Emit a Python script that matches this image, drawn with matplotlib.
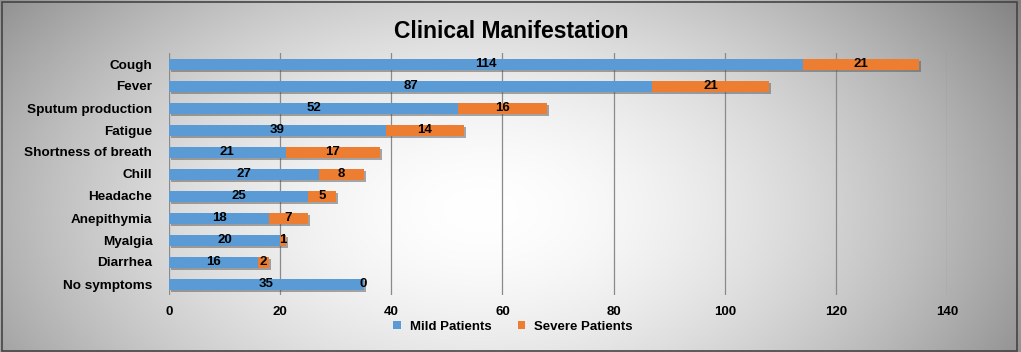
import numpy as np
import matplotlib
matplotlib.use("Agg")
import matplotlib.pyplot as plt
import matplotlib.patheffects as pe
from matplotlib.patches import Rectangle, Patch

categories = ["Cough", "Fever", "Sputum production", "Fatigue", "Shortness of breath",
              "Chill", "Headache", "Anepithymia", "Myalgia", "Diarrhea", "No symptoms"]
mild = [114, 87, 52, 39, 21, 27, 25, 18, 20, 16, 35]
severe = [21, 21, 16, 14, 17, 8, 5, 7, 1, 2, 0]
xticks = [0, 20, 40, 60, 80, 100, 120, 140]
title = "Clinical Manifestation"
series_names = ["Mild Patients", "Severe Patients"]

BLUE = "#5B9BD5"
ORANGE = "#ED7D31"

plt.rcParams['font.family'] = ['Liberation Sans', 'DejaVu Sans']

W, H = 1021, 352
fig = plt.figure(figsize=(W / 100, H / 100), dpi=100)

# background radial gradient
bg = fig.add_axes([0, 0, 1, 1], zorder=-10)
yy, xx = np.mgrid[0:H, 0:W]
cx, cy = 480, 210
d = np.sqrt(((xx - cx) / 570.0) ** 2 + ((yy - cy) / 340.0) ** 2)
val = 1.0 - 0.40 * np.clip(d, 0, 1.2) ** 1.7
img = np.dstack([val, val, val])
bg.imshow(img, extent=[0, 1, 0, 1], aspect='auto', origin='upper')
bg.axis('off')
fig.patches.append(Rectangle((0.002, 0.004), 0.994, 0.99, transform=fig.transFigure,
                             fill=False, edgecolor='#444444', linewidth=1.2))

ax = fig.add_axes([169 / W, 1 - 295 / H, (947 - 169) / W, (295 - 53) / H])
ax.set_facecolor('none')
y = np.arange(len(categories))
shadow = [pe.SimplePatchShadow(offset=(1.5, -1.5), shadow_rgbFace='#555555', alpha=0.5), pe.Normal()]
ax.barh(y, mild, height=0.5, color=BLUE, path_effects=shadow, zorder=3)
ax.barh(y, severe, left=mild, height=0.5, color=ORANGE, path_effects=shadow, zorder=3)

for i in range(len(categories)):
    ax.text(mild[i] / 2, y[i], str(mild[i]), ha='center', va='center', fontsize=9.5,
            fontweight='bold', color='black', zorder=5)
    sx = mild[i] + severe[i] / 2
    ax.text(sx, y[i], str(severe[i]), ha='center', va='center', fontsize=9.5,
            fontweight='bold', color='black', zorder=5)

ax.set_xlim(0, 140)
ax.set_ylim(len(categories) - 0.5, -0.5)
ax.set_xticks(xticks)
ax.set_xticklabels([str(t) for t in xticks], fontsize=9.5, fontweight='bold')
ax.set_yticks(y)
ax.set_yticklabels(categories, fontsize=9.7, fontweight='bold')
ax.tick_params(length=0, pad=8)
ax.tick_params(axis='y', pad=12)
ax.grid(axis='x', color='#8a8a8a', linewidth=0.9, zorder=0)
for s in ax.spines.values():
    s.set_visible(False)

fig.text(511 / W, 1 - 32 / H, title, ha='center', va='center', fontsize=16.5, fontweight='bold')

handles = [Patch(facecolor=BLUE, label=series_names[0]), Patch(facecolor=ORANGE, label=series_names[1])]
fig.legend(handles=handles, loc='center', bbox_to_anchor=(513 / W, 1 - 327 / H),
           ncol=2, frameon=False, prop={'weight': 'bold', 'size': 9.5},
           handlelength=0.55, handleheight=0.55, columnspacing=2.0, handletextpad=0.7)

fig.savefig("out.png", dpi=100)
